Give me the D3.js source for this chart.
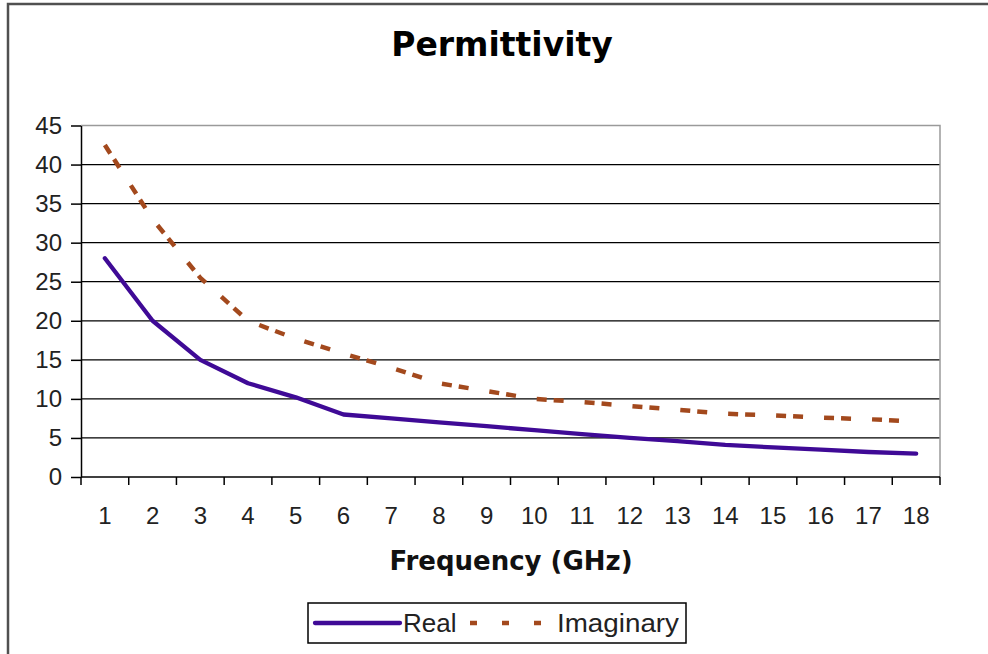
<!DOCTYPE html>
<html>
<head>
<meta charset="utf-8">
<script src="https://cdn.jsdelivr.net/npm/d3@7"></script>
<style>
  html, body { margin: 0; padding: 0; background: #fff; }
  svg { display: block; }
</style>
</head>
<body>
<svg id="chart" width="988" height="654"></svg>
<script>
// ---- data ----
const categories = ["1","2","3","4","5","6","7","8","9","10","11","12","13","14","15","16","17","18"];
const realValues = [28, 20, 15, 12, 10.2, 8, 7.5, 7, 6.5, 6, 5.5, 5, 4.6, 4.1, 3.8, 3.5, 3.2, 3];
const imagValues = [42.5, 33, 25.5, 20, 17.7, 15.8, 14, 12, 11, 10, 9.6, 9.1, 8.6, 8.1, 7.9, 7.6, 7.4, 7.1];
const yTicks = [0, 5, 10, 15, 20, 25, 30, 35, 40, 45];
const seriesNames = ["Real", "Imaginary"];
const titleText = "Permittivity";
const xTitleText = "Frequency (GHz)";

// ---- layout ----
const svg = d3.select("#chart");
const plot = { left: 81, right: 940, top: 125.5, bottom: 477 };
const realColor = "#3f0a96";
const imagColor = "#a3491d";

// outer frame (cropped on right and bottom)
svg.append("rect")
  .attr("x", 8).attr("y", 4)
  .attr("width", 1200).attr("height", 1200)
  .attr("fill", "none").attr("stroke", "#505050").attr("stroke-width", 2.5);

const x = d3.scaleBand().domain(categories).range([plot.left, plot.right]).padding(0);
const y = d3.scaleLinear().domain([0, 45]).range([plot.bottom, plot.top]);

// gridlines
svg.append("g").selectAll("line")
  .data(yTicks.filter(t => t > 0 && t < 45))
  .join("line")
  .attr("x1", plot.left).attr("x2", plot.right)
  .attr("y1", d => y(d)).attr("y2", d => y(d))
  .attr("stroke", "#000").attr("stroke-width", 1.3);

// plot border (top & right gray)
svg.append("path")
  .attr("d", `M${plot.left},${y(45)}H${plot.right}V${plot.bottom}`)
  .attr("fill", "none").attr("stroke", "#9a9a9a").attr("stroke-width", 1.5);

// y axis
const yAxis = d3.axisLeft(y).tickValues(yTicks).tickSize(10).tickPadding(9).tickSizeOuter(0);
const gy = svg.append("g").attr("transform", `translate(${plot.left},0)`).call(yAxis);
gy.select(".domain").attr("stroke", "#000").attr("stroke-width", 1.5);
gy.selectAll(".tick line").attr("stroke", "#000").attr("stroke-width", 1.5);
gy.selectAll(".tick text")
  .attr("font-family", "'Liberation Sans', Arial, sans-serif")
  .attr("font-size", 24).attr("fill", "#222");

// x axis: ticks at band boundaries, labels at centers
const gx = svg.append("g").attr("transform", `translate(0,${plot.bottom})`);
gx.append("line").attr("x1", plot.left).attr("x2", plot.right)
  .attr("y1", 0).attr("y2", 0).attr("stroke", "#000").attr("stroke-width", 1.5);
const boundaries = categories.map(c => x(c)).concat([x(categories[categories.length - 1]) + x.bandwidth()]);
gx.selectAll("line.tk").data(boundaries).join("line").attr("class", "tk")
  .attr("x1", d => d).attr("x2", d => d).attr("y1", 0).attr("y2", 8)
  .attr("stroke", "#000").attr("stroke-width", 1.5);
gx.selectAll("text").data(categories).join("text")
  .attr("x", d => x(d) + x.bandwidth() / 2)
  .attr("y", 47)
  .attr("text-anchor", "middle")
  .attr("font-family", "'Liberation Sans', Arial, sans-serif")
  .attr("font-size", 24).attr("fill", "#222")
  .text(d => d);

// lines
const line = d3.line()
  .x((d, i) => x(categories[i]) + x.bandwidth() / 2)
  .y(d => y(d));

svg.append("path").datum(imagValues)
  .attr("d", line).attr("fill", "none")
  .attr("stroke", imagColor).attr("stroke-width", 4.5)
  .attr("stroke-dasharray", "10,7,10,21");

svg.append("path").datum(realValues)
  .attr("d", line).attr("fill", "none")
  .attr("stroke", realColor).attr("stroke-width", 4.3)
  .attr("stroke-linejoin", "round").attr("stroke-linecap", "round");

// title
svg.append("text")
  .attr("x", 502).attr("y", 56).attr("text-anchor", "middle")
  .attr("font-family", "'DejaVu Sans', Verdana, sans-serif")
  .attr("font-weight", "bold").attr("font-size", 33).attr("fill", "#000")
  .text(titleText);

// x axis title
svg.append("text")
  .attr("x", 511).attr("y", 570).attr("text-anchor", "middle")
  .attr("font-family", "'DejaVu Sans', Verdana, sans-serif")
  .attr("font-weight", "bold").attr("font-size", 26).attr("fill", "#111")
  .text(xTitleText);

// legend
const lg = svg.append("g");
lg.append("rect").attr("x", 308).attr("y", 603).attr("width", 378).attr("height", 40)
  .attr("fill", "#fff").attr("stroke", "#000").attr("stroke-width", 1.5);
lg.append("line").attr("x1", 315).attr("x2", 400).attr("y1", 623).attr("y2", 623)
  .attr("stroke", realColor).attr("stroke-width", 4.3).attr("stroke-linecap", "round");
lg.append("text").attr("x", 403).attr("y", 632)
  .attr("font-family", "'Liberation Sans', Arial, sans-serif")
  .attr("font-size", 26).attr("fill", "#222").text(seriesNames[0]);
lg.append("line").attr("x1", 470).attr("x2", 546).attr("y1", 623).attr("y2", 623)
  .attr("stroke", imagColor).attr("stroke-width", 4.5).attr("stroke-dasharray", "7,25");
lg.append("text").attr("x", 557).attr("y", 632)
  .attr("font-family", "'Liberation Sans', Arial, sans-serif")
  .attr("font-size", 26).attr("fill", "#222")
  .attr("textLength", 122).attr("lengthAdjust", "spacingAndGlyphs")
  .text(seriesNames[1]);
</script>
</body>
</html>
